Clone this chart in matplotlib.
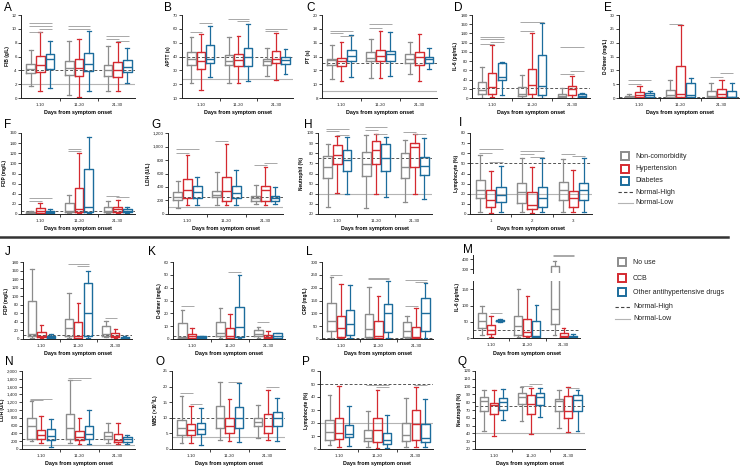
import matplotlib
matplotlib.use('Agg')
import matplotlib.pyplot as plt
from matplotlib.lines import Line2D
from matplotlib.ticker import FuncFormatter, FixedLocator

plt.rcParams['font.family'] = ['Liberation Sans', 'DejaVu Sans']

W, H = 740, 466
fig = plt.figure(figsize=(W / 100, H / 100), dpi=100)

# ---------------- data (min, Q1, median, Q3, max) ----------------
days = ['1-10', '11-20', '21-30']
days_i = ['1', '2', '3']

fib = [[[1.7, 3.6, 4.2, 4.9, 7.0], [1.0, 3.7, 4.7, 6.1, 9.6], [1.4, 4.2, 5.6, 6.4, 8.2]],
       [[0.4, 3.3, 4.3, 5.3, 8.3], [0.2, 3.2, 4.4, 5.6, 8.5], [1.0, 3.9, 4.9, 6.5, 9.7]],
       [[1.0, 3.2, 4.0, 4.8, 7.5], [1.0, 3.1, 4.1, 5.2, 8.1], [2.2, 3.8, 4.5, 5.5, 7.2]]]
aptt = [[[21, 34, 38, 43, 54], [16, 31, 37, 43, 56], [25, 35, 38, 48, 62]],
        [[21, 34, 37, 41, 54], [21, 33, 37.5, 41.5, 55], [22, 33, 40, 46, 63.5]],
        [[26, 34, 37, 38, 46], [23, 35, 38, 44, 57], [27, 34.5, 37.5, 39.5, 45.5]]]
pt = [[[10.8, 12.7, 13.45, 13.7, 15.7], [10.4, 12.6, 13.4, 13.8, 16.1], [11.0, 13.4, 14.1, 14.9, 17.1]],
      [[10.9, 13.3, 13.8, 14.6, 16.5], [10.9, 13.3, 14.1, 15.0, 17.7], [11.2, 13.3, 14.4, 14.8, 17.6]],
      [[11.4, 13.1, 13.7, 14.3, 16.1], [10.4, 12.8, 13.9, 14.6, 17.2], [12.2, 13.1, 13.7, 14.0, 15.2]]]
il6 = [[[1, 9, 17, 34, 68], [2, 9, 24, 55, 115], [6, 39, 45, 75, 79]],
       [[1, 4, 9, 24, 50], [1, 9, 29, 63, 142], [1, 6, 26, 93, 162]],
       [[1, 3, 5, 9, 22], [1, 6, 20, 27, 47], [1, 2, 4, 9, 11]]]
ddimer = [[[0.1, 0.3, 0.4, 0.9, 1.6], [0.1, 0.4, 1.2, 2.2, 4.3], [0.1, 0.5, 1.1, 1.8, 2.7]],
          [[0.1, 0.4, 1.0, 2.9, 6.4], [0.1, 0.5, 1.5, 11.6, 26.3], [0.1, 0.4, 1.0, 5.5, 7.3]],
          [[0.1, 0.4, 0.9, 2.5, 5.5], [0.1, 0.5, 1.5, 3.1, 6.5], [0.1, 0.2, 0.5, 2.5, 5.3]]]
fdp = [[[0.5, 2.0, 2.6, 4.6, 6.5], [1.3, 2.6, 5.0, 12.5, 22], [0.5, 2.6, 4.6, 6.5, 9.8]],
       [[1.3, 3.3, 6.0, 21, 37], [1.3, 3.3, 9.0, 52, 121], [1.3, 4.6, 14, 88, 152]],
       [[2.0, 4.0, 6.5, 13, 25.5], [2.0, 4.6, 9.0, 14.4, 27.5], [2.0, 3.3, 6.0, 9.0, 13]]]
ldh = [[[84, 207, 246, 330, 487], [133, 240, 350, 514, 875], [133, 243, 320, 418, 551]],
       [[133, 246, 280, 344, 625], [133, 197, 344, 551, 1043], [133, 231, 305, 418, 659]],
       [[143, 197, 236, 266, 428], [133, 197, 354, 413, 689], [143, 197, 231, 266, 393]]]
neut = [[[27, 56, 66.6, 77, 89], [40.5, 69.5, 78, 88, 97], [40, 62, 73, 83, 96]],
        [[25.5, 57.5, 69, 81, 98], [40, 69.5, 83, 92, 99], [37, 62.5, 75, 89, 96]],
        [[32, 56, 66, 80, 93], [40, 66, 86, 90, 99], [34.5, 58.5, 67, 76, 95.5]]]
lymph = [[[2.3, 16.2, 24, 33.7, 58], [1.3, 7.1, 13.6, 23.3, 42.7], [2.3, 12, 18.4, 26.5, 47.6]],
         [[2.3, 11, 21.7, 30.7, 55.7], [1.3, 4.5, 8.7, 21.7, 46], [2.3, 6.5, 15.9, 26.5, 55.7]],
         [[2.3, 13.6, 24, 32, 54], [2.3, 7.1, 16.2, 22.3, 43.4], [2.3, 14.2, 23.3, 30.7, 55.7]]]
fdp_drug = [[[2.3, 6.2, 11.6, 88.9, 164.6], [2.3, 3.9, 6.2, 15.5, 33], [0.8, 2.3, 4.6, 7.7, 11.6]],
            [[1.5, 6.2, 24.7, 46.4, 108], [0.8, 2.3, 6.2, 38.6, 83.5], [2.3, 7.7, 60, 132, 159]],
            [[4.6, 7.7, 11.6, 31, 43], [1.5, 3.9, 7.7, 13.9, 24], [0.8, 1.5, 3.0, 4.6, 6.2]]]
ddimer_drug = [[[0.3, 0.8, 1.3, 12.4, 22.7], [0.3, 0.8, 2.1, 4.1, 8.5], [0.3, 0.8, 1.3, 2.1, 2.6]],
               [[0.8, 2.1, 4.4, 13.1, 24], [0.3, 0.8, 2.1, 8.5, 19.6], [0.5, 1.3, 9.3, 24.7, 49.7]],
               [[0.8, 2.1, 3.6, 6.7, 9.5], [0.3, 0.8, 1.5, 3.1, 5.9], [0.3, 0.8, 2.1, 4.4, 4.9]]]
crp_drug = [[[4, 32, 71, 142, 242], [4, 9, 41, 90, 215], [4, 15, 58, 112, 212]],
            [[3, 6, 39, 99, 202], [1, 4, 12, 70, 167], [4, 26, 103, 138, 225]],
            [[3, 9, 32, 68, 90], [1, 3, 6, 48, 120], [4, 32, 103, 158, 219]]]
il6_drug = [[[10, 30.6, 54, 76.5, 99], [5, 12, 25.5, 41, 68], [51, 52, 54, 57, 58]],
            [[3, 10, 38.8, 68, 150], [3, 7, 20, 58, 130], [1, 3, 7, 54, 102]],
            [[10, 43, 89, 333, 387], [1, 3, 7, 17, 30], [1, 3, 5, 8, 13]]]
ldh_drug = [[[204, 264, 596, 783, 1226], [145, 247, 357, 485, 851], [60, 230, 332, 502, 766]],
            [[145, 247, 528, 885, 1762], [128, 230, 298, 468, 783], [128, 247, 383, 587, 996]],
            [[145, 247, 332, 443, 655], [119, 187, 230, 383, 672], [128, 187, 247, 298, 357]]]
wbc_drug = [[[2.0, 4.5, 6.6, 9.3, 16.9], [2.0, 4.4, 6.1, 8.0, 13.7], [1.3, 4.8, 6.3, 8.2, 13.0]],
            [[2.9, 6.6, 10.0, 13.9, 21.6], [2.6, 5.2, 7.3, 9.8, 15.9], [2.3, 6.6, 9.8, 13.5, 21.0]],
            [[3.4, 7.3, 8.7, 10.0, 14.0], [2.9, 5.2, 7.3, 11.2, 19.0], [2.7, 7.3, 10.0, 11.9, 16.2]]]
lymph_drug = [[[3.0, 6.9, 12.8, 22.2, 41.3], [1.8, 7.4, 12.5, 24.2, 48.2], [2.3, 9.4, 11.5, 18.4, 33.0]],
              [[1.3, 6.1, 8.2, 15.0, 29.0], [1.0, 5.6, 14.5, 24.2, 45.7], [1.0, 3.6, 6.9, 12.5, 26.0]],
              [[1.3, 6.1, 10.7, 20.2, 39.5], [1.3, 6.9, 19.6, 30.0, 47.7], [1.3, 5.6, 8.2, 19.6, 38.8]]]
neut_drug = [[[43, 68.3, 80.9, 86.4, 95.6], [36.8, 65.4, 75.9, 78.8, 95.6], [57, 69.6, 80, 85.9, 96.4]],
             [[55.7, 78, 86.4, 91.4, 99.8], [39.7, 65.4, 78, 89.3, 98.6], [60.8, 76.7, 87.2, 92.3, 98.6]],
             [[47.3, 69.2, 81.8, 83.9, 95.6], [41.8, 60, 69.2, 88, 99.8], [43, 69.2, 83, 89.3, 95.6]]]

# significance brackets: (group, from box, to box, y)
sig_fib = [(0, 0, 2, 10.8), (0, 0, 2, 10.4), (0, 1, 2, 10.0), (0, 0, 1, 9.6), (1, 0, 2, 10.4), (1, 0, 2, 10.0),
           (2, 0, 2, 8.9), (2, 0, 1, 8.5), (2, 1, 2, 8.2)]
sig_aptt = [(0, 0, 1, 57.5), (0, 1, 2, 64.0), (1, 0, 2, 67.0), (1, 1, 2, 65.5), (2, 0, 2, 59.7), (2, 0, 1, 58.7)]
sig_pt = [(0, 0, 2, 17.7), (0, 0, 1, 17.4), (0, 1, 2, 16.9), (1, 0, 2, 18.7), (1, 0, 1, 18.1)]
sig_il6 = [(0, 0, 2, 132), (0, 0, 2, 127), (0, 1, 2, 122), (0, 0, 1, 118), (1, 0, 2, 165), (1, 0, 1, 146),
           (2, 0, 2, 111), (2, 0, 1, 52), (2, 1, 2, 58)]
sig_ddimer = [(0, 0, 2, 6.5), (0, 0, 1, 5.1), (1, 0, 1, 26.9), (2, 0, 1, 7.6), (2, 1, 2, 9.2)]
sig_fdp = [(0, 0, 2, 31), (0, 0, 1, 26), (1, 0, 1, 128), (1, 0, 1, 124), (2, 0, 1, 36), (2, 1, 2, 33)]
sig_ldh = [(0, 0, 2, 960), (0, 0, 1, 910), (1, 0, 1, 1080), (2, 0, 1, 723), (2, 1, 2, 757)]
sig_neut = [(0, 0, 2, 104), (0, 0, 1, 101.6), (0, 1, 2, 98.4), (1, 0, 2, 105.8), (1, 0, 1, 102.6),
            (1, 1, 2, 99.4), (2, 0, 1, 101), (2, 1, 2, 99.4)]
sig_lymph = [(0, 0, 2, 63.8), (0, 0, 1, 60.6), (0, 1, 2, 50.9), (1, 0, 2, 62), (1, 0, 1, 59), (1, 1, 2, 56.7),
             (2, 0, 1, 59), (2, 1, 2, 57.3)]
sig_fdp_drug = [(1, 0, 2, 175), (1, 1, 2, 171), (2, 0, 1, 48.7)]
sig_ddimer_drug = [(0, 0, 1, 25.8), (1, 1, 2, 52.3), (2, 0, 1, 12.9)]
sig_crp_drug = [(0, 0, 1, 251), (1, 0, 2, 238), (1, 0, 2, 234), (2, 0, 2, 228), (2, 1, 2, 221), (2, 0, 1, 127)]
sig_il6_drug = [(0, 1, 2, 76)]
sig_il6_drug_top = [(2, 0, 2, 438), (2, 0, 2, 430)]
sig_ldh_drug = [(0, 0, 2, 1294), (0, 0, 1, 1251), (1, 0, 2, 1821), (1, 0, 1, 1770)]
sig_wbc_drug = [(0, 0, 1, 17.8), (0, 1, 2, 14.3), (1, 1, 2, 21.5), (2, 1, 2, 19.9)]
sig_lymph_drug = [(1, 0, 2, 49.0), (1, 1, 2, 47.7), (2, 1, 2, 49.0)]
sig_neut_drug = [(1, 0, 1, 100.7), (1, 1, 2, 103.2), (2, 1, 2, 97.7)]

legend1 = ['Non-comorbidity', 'Hypertension', 'Diabetes', 'Normal-High', 'Normal-Low']
legend2 = ['No use', 'CCB', 'Other antihypertensive drugs', 'Normal-High', 'Normal-Low']

# ---------------- style ----------------
COLS = ['#8c8c8c', '#d42a30', '#1c6c9c']
OFFS = [-0.25, 0.0, 0.25]
BW = 0.22
TICK_FS = 3.2
LAB_FS = 3.4
XLAB_FS = 3.9
LET_FS = 8.5
SIG_C = '#9a9a9a'
HI_C = '#555555'
LO_C = '#b4b4b4'


def px_axes(x0, y0, x1, y1):
    return fig.add_axes([x0 / W, 1 - y1 / H, (x1 - x0) / W, (y1 - y0) / H])


def draw_boxes(ax, stats):
    for b in range(3):
        st = [dict(whislo=grp[b][0], q1=grp[b][1], med=grp[b][2], q3=grp[b][3],
                   whishi=grp[b][4], fliers=[]) for grp in stats]
        pos = [g + OFFS[b] for g in range(len(stats))]
        c = COLS[b]
        ax.bxp(st, positions=pos, widths=BW, showfliers=False, manage_ticks=False,
               capwidths=0.1,
               boxprops=dict(color=c, lw=1.0),
               medianprops=dict(color=c, lw=1.0),
               whiskerprops=dict(color=c, lw=0.9),
               capprops=dict(color=c, lw=0.9))


def draw_sig(ax, sig):
    for g, b0, b1, y in sig:
        ax.plot([g + OFFS[b0] - 0.04, g + OFFS[b1] + 0.04], [y, y], color=SIG_C, lw=0.6,
                clip_on=False, solid_capstyle='butt')


def style_axes(ax, ylim, yticks, fmt=None):
    ax.set_xlim(-0.5, 2.45)
    ax.set_ylim(*ylim)
    for s in ['top', 'right']:
        ax.spines[s].set_visible(False)
    for s in ['left', 'bottom']:
        ax.spines[s].set_linewidth(0.7)
        ax.spines[s].set_color('#222222')
    ax.set_yticks(yticks)
    if fmt:
        ax.yaxis.set_major_formatter(FuncFormatter(fmt))
    ax.tick_params(axis='y', labelsize=TICK_FS, length=2, width=0.6, pad=1, colors='#222222')
    ax.set_xticks([0, 1, 2])
    ax.xaxis.set_minor_locator(FixedLocator([0.5, 1.5]))
    ax.tick_params(axis='x', which='major', length=0, labelsize=TICK_FS, pad=3.5, colors='#222222')
    ax.tick_params(axis='x', which='minor', length=2, width=0.6, colors='#222222')


def panel(rect, stats, ylim, yticks, ylabel, letter, letter_xy, hi=None, lo=None, sig=(),
          xt=days, fmt=None):
    ax = px_axes(*rect)
    style_axes(ax, ylim, yticks, fmt)
    if hi is not None:
        ax.axhline(hi, ls=(0, (3, 2)), color=HI_C, lw=0.7, zorder=1)
    if lo is not None:
        ax.axhline(lo, color=LO_C, lw=0.8, zorder=1)
    draw_boxes(ax, stats)
    draw_sig(ax, sig)
    ax.set_xticklabels(xt)
    ax.set_xlabel('Days from symptom onset', fontsize=XLAB_FS, fontweight='bold', labelpad=2.5)
    ax.set_ylabel(ylabel, fontsize=LAB_FS, fontweight='bold', labelpad=1.5)
    fig.text(letter_xy[0] / W, 1 - letter_xy[1] / H, letter, fontsize=LET_FS, va='center', ha='left')
    return ax


thousands = lambda v, p: f'{v:,.0f}'

# Row 1
panel((21, 15, 135, 98), fib, (0, 12), range(0, 13, 2), 'FIB (g/L)', 'A', (4, 8), 4, 2, sig_fib)
panel((182, 15, 293, 98), aptt, (10, 70), range(10, 71, 10), 'APTT (s)', 'B', (164, 8), 40, 24, sig_aptt)
panel((322, 15, 437, 98), pt, (8, 20), range(8, 21, 2), 'PT (s)', 'C', (306, 8), 13, 9, sig_pt)
panel((472, 15, 590, 98), il6, (0, 180), range(0, 181, 20), 'IL-6 (pg/mL)', 'D', (454, 8), 21, None, sig_il6)
panel((619, 15, 740, 98), ddimer, (0, 30), range(0, 31, 5), 'D-Dimer (mg/L)', 'E', (604, 8), 0.5, None, sig_ddimer)

# Row 2
panel((21, 133, 135, 214), fdp, (0, 160), range(0, 161, 20), 'FDP (mg/L)', 'F', (4, 125), 5, None, sig_fdp)
panel((168, 133, 283, 214), ldh, (0, 1200), range(0, 1201, 200), 'LDH (U/L)', 'G', (151, 125), 245, 109,
      sig_ldh, fmt=thousands)
panel((318, 133, 432, 214), neut, (20, 100), range(20, 101, 10), 'Neutrophil (%)', 'H', (304, 125), 75, 40,
      sig_neut)
panel((470, 133, 592, 214), lymph, (0, 80), range(0, 81, 10), 'Lymphocyte (%)', 'I', (459, 123), 50, 20,
      sig_lymph, xt=days_i)

# separator
fig.add_artist(Line2D([0, 728 / W], [1 - 237 / H, 1 - 237 / H], color='#333333', lw=1.8))

# Row 3
panel((23, 262, 132, 339), fdp_drug, (0, 180), range(0, 181, 20), 'FDP (mg/L)', 'J', (5, 252), 10, None,
      sig_fdp_drug)
panel((173, 262, 285, 339), ddimer_drug, (0, 60), range(0, 61, 10), 'D-dimer (mg/L)', 'K', (148, 252), 2.5, None,
      sig_ddimer_drug)
panel((322, 262, 433, 339), crp_drug, (0, 300), range(0, 301, 50), 'CRP (mg/L)', 'L', (306, 252), 4, None,
      sig_crp_drug)

# M: broken axis
axm = px_axes(473, 280.7, 580, 338.3)
style_axes(axm, (0, 176), [0, 50, 100, 150])
axm.axhline(26, ls=(0, (3, 2)), color=HI_C, lw=0.7, zorder=1)
draw_boxes(axm, il6_drug)
draw_sig(axm, sig_il6_drug)
axm.set_xticklabels(days)
axm.set_xlabel('Days from symptom onset', fontsize=XLAB_FS, fontweight='bold', labelpad=2.5)
axm_t = px_axes(473, 255, 580, 273)
style_axes(axm_t, (263, 443), [300, 400])
axm_t.spines['bottom'].set_visible(False)
axm_t.tick_params(axis='x', which='both', length=0, labelbottom=False)
draw_boxes(axm_t, il6_drug)
draw_sig(axm_t, sig_il6_drug_top)
fig.text(458 / W, 1 - 297 / H, 'IL-6 (pg/mL)', rotation=90, fontsize=LAB_FS, fontweight='bold',
         va='center', ha='center')
fig.text(463 / W, 1 - 250 / H, 'M', fontsize=LET_FS, va='center', ha='left')

# Row 4
panel((22, 371, 135, 449), ldh_drug, (0, 2000), range(0, 2001, 200), 'LDH (U/L)', 'N', (5, 362), 255, 115,
      sig_ldh_drug, fmt=thousands)
panel((172, 371, 285, 449), wbc_drug, (0, 25), range(0, 26, 5), 'WBC (×10$^{9}$/L)', 'O', (156, 362), 10, 4,
      sig_wbc_drug)
panel((320, 371, 433, 449), lymph_drug, (0, 60), range(0, 61, 10), 'Lymphocyte (%)', 'P', (302, 362), 50, 20,
      sig_lymph_drug)
panel((475, 371, 585, 449), neut_drug, (20, 120), range(20, 121, 10), 'Neutrophil (%)', 'Q', (458, 362), 74.5, 40,
      sig_neut_drug)


# ---------------- legends ----------------
def legend(labels, x_mark, x_text, ys, fs=5.0):
    for i, (lab, y) in enumerate(zip(labels, ys)):
        yf = 1 - y / H
        if i < 3:
            fig.add_artist(Line2D([x_mark / W], [yf], marker='s', ms=5.2, mfc='white', mec=COLS[i],
                                  mew=1.4, ls='none'))
        elif i == 3:
            fig.add_artist(Line2D([(x_mark - 7) / W, (x_mark + 8) / W], [yf, yf], color='#444444', lw=0.8,
                                  ls=(0, (3, 2))))
        else:
            fig.add_artist(Line2D([(x_mark - 7) / W, (x_mark + 8) / W], [yf, yf], color=LO_C, lw=0.8))
        fig.text(x_text / W, yf, lab, fontsize=fs, va='center', ha='left', color='#222222')


legend(legend1, 625, 635, [156, 169, 181, 192, 203])
legend(legend2, 622, 633, [262, 278, 292, 307, 319])

fig.savefig('out.png', dpi=100)
